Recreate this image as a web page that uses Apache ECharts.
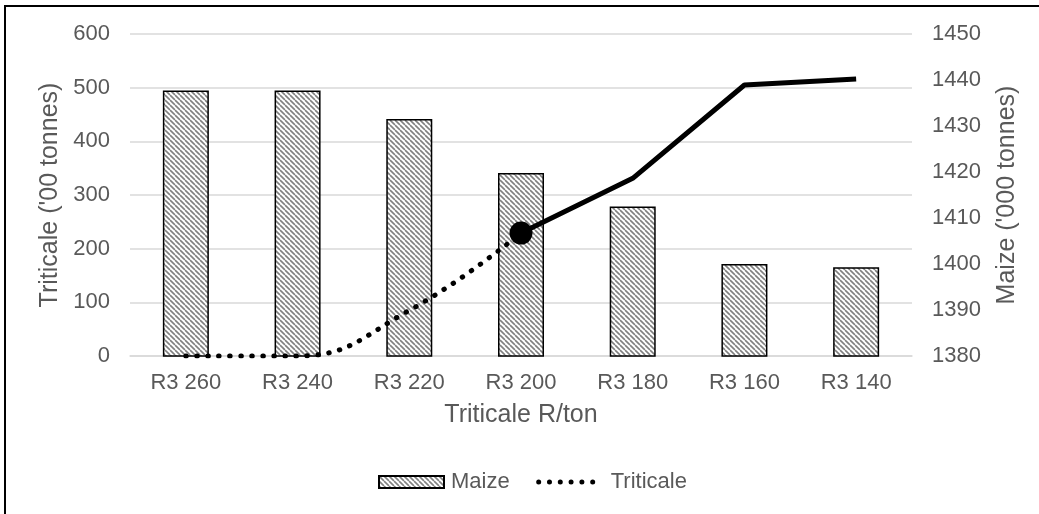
<!DOCTYPE html>
<html>
<head>
<meta charset="utf-8">
<script src="https://cdn.jsdelivr.net/npm/echarts@6/dist/echarts.min.js"></script>
<style>
  html, body { margin: 0; padding: 0; background: #fff; }
  #chart { width: 1039px; height: 514px; }
</style>
</head>
<body>
<div id="chart"></div>
<script>
const categories = ['R3 260', 'R3 240', 'R3 220', 'R3 200', 'R3 180', 'R3 160', 'R3 140']
const maize = [1437.7, 1437.7, 1431.5, 1419.8, 1412.5, 1400.0, 1399.3]
const triticale = [0, 0, 85, 229, 331, 505, 516]
// the line is dotted up to R3 200 and solid from there on
const splitIndex = 3

const textColor = '#595959'
const font = 'Liberation Sans, Arial, sans-serif'

// diagonal hatch fill for the bars
const makeHatch = () => {
  const c = document.createElement('canvas')
  c.width = 5
  c.height = 5
  const ctx = c.getContext('2d')
  ctx.fillStyle = '#ffffff'
  ctx.fillRect(0, 0, 5, 5)
  ctx.strokeStyle = '#808080'
  ctx.lineWidth = 1.6
  for (const k of [-5, 0, 5]) {
    ctx.beginPath()
    ctx.moveTo(k, 0)
    ctx.lineTo(k + 5, 5)
    ctx.stroke()
  }
  return c
}

// legend icon for the dotted line: six round dots in a 65x12 box
const dotsIcon = () => {
  let p = 'path://M0 0 M65 12 '
  for (let i = 0; i < 6; i++) {
    const cx = 3 + i * 10.8
    p += `M${cx - 2.5} 6 a2.5 2.5 0 1 0 5 0 a2.5 2.5 0 1 0 -5 0 Z `
  }
  return p
}

const dottedData = triticale.map((v, i) => (i <= splitIndex ? v : null))
const solidData = triticale.map((v, i) => (i >= splitIndex ? v : null))
const markerData = triticale.map((v, i) => (i === splitIndex ? v : null))

const chart = echarts.init(document.getElementById('chart'))

const option = {
  animation: false,
  textStyle: { fontFamily: font },
  graphic: [
    {
      type: 'rect',
      shape: { x: 5, y: 6, width: 1100, height: 600 },
      style: { fill: 'none', stroke: '#000', lineWidth: 2 },
      silent: true
    }
  ],
  grid: {
    left: 130,
    right: 127,
    top: 34,
    bottom: 158
  },
  legend: {
    data: [
      { name: 'Maize', icon: 'rect', textStyle: { padding: [0, 0, 0, 2] } },
      { name: 'Triticale', icon: dotsIcon(), textStyle: { padding: [0, 0, 0, 5] } }
    ],
    top: 471,
    left: 378,
    padding: 0,
    itemWidth: 65,
    itemHeight: 12,
    itemGap: 26,
    textStyle: { color: textColor, fontSize: 22, fontFamily: font }
  },
  xAxis: {
    type: 'category',
    data: categories,
    name: 'Triticale R/ton',
    nameLocation: 'middle',
    nameGap: 47,
    nameTextStyle: { color: textColor, fontSize: 25, fontFamily: font },
    axisLine: { lineStyle: { color: '#d9d9d9', width: 1.5 } },
    axisTick: { show: false },
    axisLabel: { color: textColor, fontSize: 22, margin: 16, fontFamily: font }
  },
  yAxis: [
    {
      type: 'value',
      min: 0,
      max: 600,
      interval: 100,
      name: "Triticale ('00 tonnes)",
      nameLocation: 'middle',
      nameRotate: 90,
      nameGap: 66,
      nameTextStyle: { color: textColor, fontSize: 25, fontFamily: font },
      axisLine: { show: false },
      axisTick: { show: false },
      axisLabel: { color: textColor, fontSize: 22, margin: 20, fontFamily: font },
      splitLine: { lineStyle: { color: '#d9d9d9', width: 1.5 } }
    },
    {
      type: 'value',
      min: 1380,
      max: 1450,
      interval: 10,
      name: "Maize ('000 tonnes)",
      nameLocation: 'middle',
      nameRotate: 90,
      nameGap: 83,
      nameTextStyle: { color: textColor, fontSize: 25, fontFamily: font },
      axisLine: { show: false },
      axisTick: { show: false },
      axisLabel: {
        color: textColor,
        fontSize: 22,
        margin: 20,
        fontFamily: font,
        formatter: (v) => String(v)
      },
      splitLine: { show: false }
    }
  ],
  series: [
    {
      name: 'Maize',
      type: 'bar',
      yAxisIndex: 1,
      data: maize,
      barWidth: 46,
      itemStyle: {
        color: { image: makeHatch(), repeat: 'repeat' },
        borderColor: '#000',
        borderWidth: 1.5
      },
      z: 1
    },
    {
      name: 'Triticale',
      type: 'line',
      yAxisIndex: 0,
      data: dottedData,
      smooth: 0.45,
      symbol: 'none',
      lineStyle: { color: '#000', width: 5, type: [0.5, 10.5], cap: 'round' },
      itemStyle: { color: '#000' },
      z: 3
    },
    {
      name: 'Triticale solid',
      type: 'line',
      yAxisIndex: 0,
      data: solidData,
      symbol: 'none',
      lineStyle: { color: '#000', width: 5 },
      z: 3
    },
    {
      name: 'Triticale point',
      type: 'scatter',
      yAxisIndex: 0,
      data: markerData,
      symbol: 'circle',
      symbolSize: 23,
      itemStyle: { color: '#000', opacity: 1 },
      z: 4
    }
  ]
}

chart.setOption(option)
</script>
</body>
</html>
